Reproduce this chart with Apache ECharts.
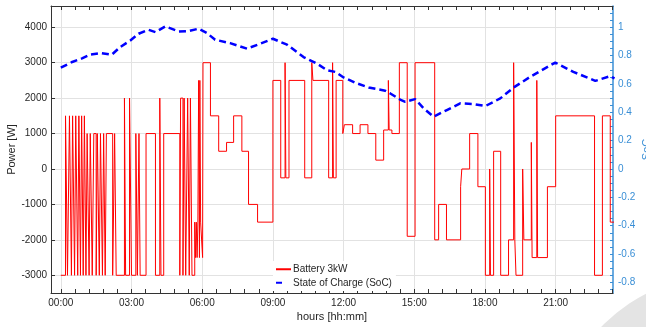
<!DOCTYPE html>
<html><head><meta charset="utf-8">
<script src="https://cdn.jsdelivr.net/npm/echarts@6/dist/echarts.min.js"></script>
<style>html,body{margin:0;padding:0;background:#fff}#c{width:646px;height:327px}</style>
</head><body><div id="c"></div>
<script>
// Battery power steps: segment start time (minutes) and power (W)
const battTimes = [0,12,17,22,27,30,35,38,43,46,50,53,57,60,64,67,72,75,80,84,90,93,98,101,106,109,113,116,132,137,141,162,165,175,180,191,195,199,202,217,241,252,255,262,303,305,311,314,318,323,327,330,334,341,343,345,347,349,351,353,354,356,361,362,381,402,422,440,461,478,501,540,560,571,573,581,621,639,642,682,692,694,701,718,722,743,762,782,802,822,834,836,843,862,882,902,952,962,982,1018,1021,1041,1062,1081,1092,1094,1102,1120,1140,1153,1156,1159,1176,1179,1198,1200,1212,1214,1239,1260,1359,1379,1399,1410];
const battPower = [-3000,1500,-3000,1500,-3000,1500,-3000,1500,-3000,1500,-3000,1500,-3000,1500,-3000,1000,-3000,1000,-3000,1000,-3000,1000,-3000,1000,-3000,1000,-3000,1000,-3000,1000,-3000,2000,-3000,2000,-3000,1000,-3000,1000,-3000,1000,-3000,2000,-3000,1000,-3000,2000,-3000,2000,-3000,2000,-3000,2000,-3000,-1500,-2500,-1500,-2500,-1500,2500,-2500,2500,-1500,-2500,3000,1500,500,750,1500,500,-1000,-1500,2500,-250,3000,-250,2500,-250,3000,2500,-250,3000,-250,2500,1000,1250,1000,1250,1000,250,1100,2500,1100,1000,3000,-1900,3000,-2000,-1000,-2000,-500,0,1000,-500,-3000,0,-3000,500,-3000,-2000,3000,-2000,-3000,0,-2000,750,-2500,2500,-2500,-500,1500,-3000,1500,-1500,-1500];
// State of charge readings (minutes, fraction)
const socTimes = [0,29,54,75,103,130,151,177,198,223,241,266,300,325,351,372,393,431,474,508,540,576,618,652,678,699,720,754,784,826,839,864,877,902,924,949,983,1017,1051,1081,1119,1153,1195,1259,1305,1361,1399,1410];
const socValues = [0.715,0.755,0.78,0.807,0.818,0.807,0.86,0.907,0.954,0.982,0.966,1.006,0.97,0.973,0.99,0.959,0.912,0.888,0.849,0.884,0.919,0.877,0.79,0.744,0.697,0.685,0.646,0.604,0.575,0.552,0.533,0.49,0.474,0.493,0.428,0.369,0.416,0.463,0.458,0.444,0.498,0.575,0.65,0.751,0.685,0.622,0.655,0.639];

const xMajor = [0,180,360,540,720,900,1080,1260];
const yLeftTicks = [-3000,-2000,-1000,0,1000,2000,3000,4000];
const yRightLabels = [-0.8,-0.6,-0.4,-0.2,0,0.2,0.4,0.6,0.8,1];

const xMinor = []; for (let t = 0; t <= 1404; t += 36) xMinor.push(t);
const yRightTicks = []; for (let k = -17; k <= 22; k++) yRightTicks.push(Math.round(k*5)/100);

const FONT = 'Liberation Sans, Arial, Helvetica, sans-serif';
const TXT = '#262626';
const BLUE_AX = '#3a8fd6';
const pad = n => (n < 10 ? '0' : '') + n;
const fmtTime = v => pad(Math.floor(v/60)) + ':' + pad(Math.round(v%60));

const battData = battTimes.map((t,i)=>[t,battPower[i]]);
const socData = socTimes.map((t,i)=>[t,socValues[i]]);

const chart = echarts.init(document.getElementById('c'), null, {renderer:'canvas'});
const XMIN = -25, XMAX = 1406;
chart.setOption({
  animation:false,
  backgroundColor:'#ffffff',
  textStyle:{fontFamily:FONT},
  graphic:[{type:'circle', shape:{cx:720, cy:440, r:164}, style:{fill:'#e4e4e4'}, z:-10, silent:true}],
  grid:{left:51, right:33, top:6, bottom:34, containLabel:false, outerBoundsMode:'none'},
  legend:{
    left:273, top:261, orient:'vertical', backgroundColor:'#ffffff',
    padding:[2,4,2,2], itemGap:1, itemWidth:15, itemHeight:6,
    itemStyle:{opacity:0},
    textStyle:{fontSize:10, color:TXT, fontFamily:FONT, lineHeight:12.5, padding:[0,0,0,-3]},
    data:[{name:'Battery 3kW'},{name:'State of Charge (SoC)', lineStyle:{type:[6,20]}}]
  },
  xAxis:[
    {type:'value', position:'bottom', min:XMIN, max:XMAX,
     axisLine:{show:true, onZero:false, lineStyle:{color:'#333', width:1}},
     axisTick:{show:true, inside:true, length:4, customValues:xMinor, lineStyle:{color:'#333'}},
     axisLabel:{show:true, customValues:xMajor, formatter:fmtTime, fontSize:10, color:TXT, margin:5, fontFamily:FONT},
     splitLine:{show:false},
     name:'hours [hh:mm]', nameLocation:'middle', nameGap:18, nameMoveOverlap:false,
     nameTextStyle:{fontSize:11, color:TXT, fontFamily:FONT}
    },
    {type:'value', position:'top', min:XMIN, max:XMAX,
     axisLine:{show:true, onZero:false, lineStyle:{color:'#333', width:1}},
     axisTick:{show:true, inside:true, length:4, customValues:xMinor, lineStyle:{color:'#333'}},
     axisLabel:{show:false}, splitLine:{show:false}
    },
    {type:'value', position:'bottom', min:XMIN, max:XMAX,
     axisLine:{show:false}, axisTick:{show:false, customValues:xMajor},
     axisLabel:{show:false, customValues:xMajor},
     splitLine:{show:true, lineStyle:{color:'#e2e2e2', width:1}}
    }
  ],
  yAxis:[
    {type:'value', position:'left', min:-3500, max:4600,
     axisLine:{show:true, onZero:false, lineStyle:{color:'#333', width:1}},
     axisTick:{show:true, inside:true, length:4, customValues:yLeftTicks, lineStyle:{color:'#333'}},
     axisLabel:{customValues:yLeftTicks, fontSize:10, color:TXT, margin:4, fontFamily:FONT, formatter:v=>String(v)},
     splitLine:{show:true, lineStyle:{color:'#e2e2e2', width:1}},
     name:'Power [W]', nameLocation:'middle', nameGap:34, nameMoveOverlap:false,
     nameTextStyle:{fontSize:11, color:TXT, fontFamily:FONT}
    },
    {type:'value', position:'right', min:-0.875, max:1.15,
     axisLine:{show:true, onZero:false, lineStyle:{color:BLUE_AX, width:1.5}},
     axisTick:{show:true, inside:true, length:3, customValues:yRightTicks, lineStyle:{color:BLUE_AX}},
     axisLabel:{customValues:yRightLabels, fontSize:10, color:BLUE_AX, margin:5, fontFamily:FONT,
       formatter:v=>String(Math.round(v*10)/10)},
     splitLine:{show:false},
     name:'SoC', nameLocation:'middle', nameGap:28, nameMoveOverlap:false,
     nameTextStyle:{fontSize:11, color:BLUE_AX, fontFamily:FONT}
    }
  ],
  series:[
    {name:'Battery 3kW', type:'line', step:'end', xAxisIndex:0, yAxisIndex:0, data:battData,
     symbol:'none', lineStyle:{color:'#ff0000', width:1}, itemStyle:{color:'#ff0000'}, z:3},
    {name:'State of Charge (SoC)', type:'line', xAxisIndex:0, yAxisIndex:1, data:socData,
     symbol:'none', lineStyle:{color:'#0000ff', width:2.5, type:[7,4]}, itemStyle:{color:'#0000ff'}, z:4}
  ]
});
</script></body></html>
